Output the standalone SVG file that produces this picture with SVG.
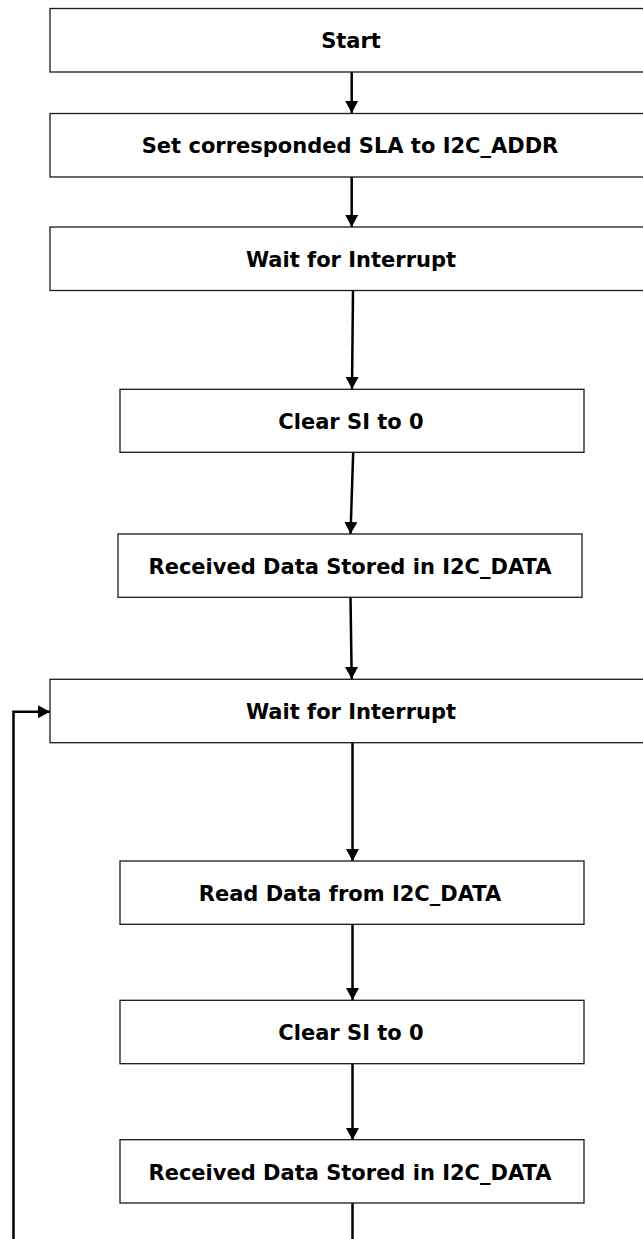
<svg xmlns="http://www.w3.org/2000/svg" width="643" height="1239" viewBox="0 0 643 1239">
  <style>
    .box { fill: #ffffff; stroke: #1a1a1a; stroke-width: 1.3; }
    .lbl { font-family: "DejaVu Sans", Verdana, sans-serif; font-weight: bold; font-size: 21px; fill: #000000; text-anchor: middle; }
    .conn { fill: none; stroke: #000000; stroke-width: 2.5; }
  </style>
  <defs>
    <marker id="arrow" markerUnits="userSpaceOnUse" markerWidth="14" markerHeight="14" refX="12" refY="6.5" orient="auto">
      <path d="M0,0 L12,6.5 L0,13 z" fill="#000000"/>
    </marker>
  </defs>
  <rect width="643" height="1239" fill="#ffffff"/>

  <g id="connectors">
    <line class="conn" x1="351.7" y1="72" x2="351.7" y2="113" marker-end="url(#arrow)"/>
    <line class="conn" x1="351.7" y1="177" x2="351.7" y2="227" marker-end="url(#arrow)"/>
    <line class="conn" x1="353" y1="290" x2="352" y2="389" marker-end="url(#arrow)"/>
    <line class="conn" x1="353.2" y1="452" x2="350.5" y2="534" marker-end="url(#arrow)"/>
    <line class="conn" x1="350.5" y1="597" x2="351.7" y2="679" marker-end="url(#arrow)"/>
    <line class="conn" x1="352.5" y1="743" x2="352.5" y2="861" marker-end="url(#arrow)"/>
    <line class="conn" x1="352.5" y1="924" x2="352.5" y2="1000" marker-end="url(#arrow)"/>
    <line class="conn" x1="352.5" y1="1063" x2="352.5" y2="1140" marker-end="url(#arrow)"/>
    <line class="conn" x1="352.5" y1="1203" x2="352.5" y2="1240"/>
    <polyline class="conn" points="13.5,1240 13.5,711.7 50,711.7" stroke-width="3" marker-end="url(#arrow)"/>
  </g>

  <g id="n1">
    <rect class="box" x="50" y="8.5" width="604" height="63.5"/>
    <text class="lbl" x="351" y="48">Start</text>
  </g>
  <g id="n2">
    <rect class="box" x="50" y="113.5" width="604" height="63.5"/>
    <text class="lbl" x="350" y="153">Set corresponded SLA to I2C_ADDR</text>
  </g>
  <g id="n3">
    <rect class="box" x="50" y="227" width="604" height="63.5"/>
    <text class="lbl" x="351" y="267">Wait for Interrupt</text>
  </g>
  <g id="n4">
    <rect class="box" x="120" y="389.3" width="464" height="63"/>
    <text class="lbl" x="351" y="428.5">Clear SI to 0</text>
  </g>
  <g id="n5">
    <rect class="box" x="118" y="534" width="464" height="63.3"/>
    <text class="lbl" x="350" y="573.5">Received Data Stored in I2C_DATA</text>
  </g>
  <g id="n6">
    <rect class="box" x="50" y="679.3" width="604" height="63.4"/>
    <text class="lbl" x="351" y="719">Wait for Interrupt</text>
  </g>
  <g id="n7">
    <rect class="box" x="120" y="861" width="464" height="63.3"/>
    <text class="lbl" x="350" y="900.5">Read Data from I2C_DATA</text>
  </g>
  <g id="n8">
    <rect class="box" x="120" y="1000.3" width="464" height="63.4"/>
    <text class="lbl" x="351" y="1040">Clear SI to 0</text>
  </g>
  <g id="n9">
    <rect class="box" x="120" y="1139.7" width="464" height="63.3"/>
    <text class="lbl" x="350" y="1179.5">Received Data Stored in I2C_DATA</text>
  </g>
</svg>
